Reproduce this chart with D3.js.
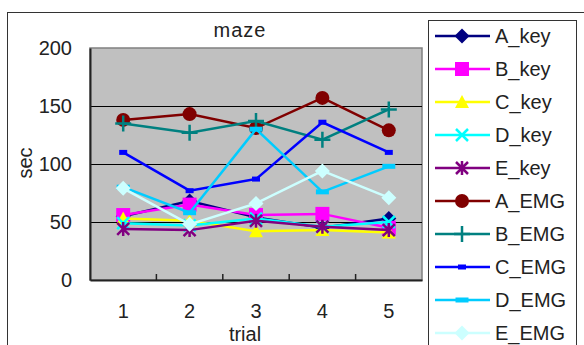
<!DOCTYPE html>
<html>
<head>
<meta charset="utf-8">
<script src="https://cdn.jsdelivr.net/npm/d3@7"></script>
<style>
  body { margin: 0; background: #fff; }
  text { font-family: "Liberation Sans", Arial, sans-serif; fill: #222; }
</style>
</head>
<body>
<svg id="chart" width="584" height="345"></svg>
<script>
// data
var trials = [1, 2, 3, 4, 5];
var yTicks = [0, 50, 100, 150, 200];

var seriesNames = ['A_key', 'B_key', 'C_key', 'D_key', 'E_key',
                   'A_EMG', 'B_EMG', 'C_EMG', 'D_EMG', 'E_EMG'];

var A_key = [55, 68, 54, 45, 53];
var B_key = [56, 65, 56, 57, 45];
var C_key = [53, 51, 42, 43, 41];
var D_key = [49, 47, 53, 46, 50];
var E_key = [44, 43, 51, 46, 43];
var A_EMG = [138, 143, 131, 157, 129];
var B_EMG = [135, 127, 137, 121, 147];
var C_EMG = [110, 77, 87, 136, 110];
var D_EMG = [80, 58, 130, 76, 98];
var E_EMG = [79, 48, 66, 94, 71];

var seriesValues = [A_key, B_key, C_key, D_key, E_key, A_EMG, B_EMG, C_EMG, D_EMG, E_EMG];
var colors = ['#000080', '#FF00FF', '#FFFF00', '#00FFFF', '#800080',
              '#800000', '#008080', '#0000FF', '#00CCFF', '#CCFFFF'];
var markers = ['diamond', 'square', 'triangle', 'x', 'star',
               'circle', 'plus', 'dash', 'wideDash', 'diamond'];

var svg = d3.select('#chart');

// outer chart frame (cropped on right and bottom)
svg.append('rect')
    .attr('x', 7.5).attr('y', 12.5)
    .attr('width', 600).attr('height', 400)
    .attr('fill', '#fff').attr('stroke', '#333');

var plot = { left: 90, top: 48, right: 422, bottom: 280 };

var x = d3.scaleBand().domain(trials).range([plot.left, plot.right]);
var y = d3.scaleLinear().domain([0, 200]).range([plot.bottom, plot.top]);

// plot area
svg.append('rect')
    .attr('x', plot.left).attr('y', plot.top)
    .attr('width', plot.right - plot.left).attr('height', plot.bottom - plot.top)
    .attr('fill', '#C0C0C0').attr('stroke', '#808080').attr('stroke-width', 1.5);

// gridlines
svg.append('g')
    .attr('transform', 'translate(' + plot.left + ',0)')
    .call(d3.axisLeft(y).tickValues([50, 100, 150]).tickSize(-(plot.right - plot.left)).tickFormat(''))
    .call(function (g) { g.select('.domain').remove(); })
    .selectAll('line').attr('stroke', '#000').attr('stroke-width', 1);

// y axis
var yAxis = svg.append('g')
    .attr('transform', 'translate(' + plot.left + ',0)')
    .call(d3.axisLeft(y).tickValues(yTicks).tickSize(0).tickPadding(18));
yAxis.select('.domain').attr('stroke', '#222').attr('stroke-width', 2);
yAxis.selectAll('text').style('font-size', '20px').attr('fill', '#222');

// x axis
var xAxis = svg.append('g')
    .attr('transform', 'translate(0,' + plot.bottom + ')')
    .call(d3.axisBottom(x).tickSize(0).tickPadding(24));
xAxis.select('.domain').attr('stroke', '#222').attr('stroke-width', 2);
xAxis.selectAll('text').style('font-size', '20px').attr('fill', '#222');

// category boundary ticks, pointing inward
svg.append('g').selectAll('line')
    .data(trials.slice(1))
    .join('line')
    .attr('x1', function (d) { return x(d); })
    .attr('x2', function (d) { return x(d); })
    .attr('y1', plot.bottom)
    .attr('y2', plot.bottom - 6)
    .attr('stroke', '#222').attr('stroke-width', 1.5);

// titles
svg.append('text').attr('x', 240).attr('y', 37).attr('text-anchor', 'middle')
    .style('font-size', '20px').style('letter-spacing', '1px').text('maze');
svg.append('text').attr('x', 245).attr('y', 341).attr('text-anchor', 'middle')
    .style('font-size', '20px').text('trial');
svg.append('text').attr('transform', 'translate(32,163) rotate(-90)').attr('text-anchor', 'middle')
    .style('font-size', '20px').text('sec');

function drawMarker(g, type, color, cx, cy) {
    var s;
    if (type === 'diamond') {
        g.append('path').attr('d', 'M' + cx + ',' + (cy - 7.5) + 'L' + (cx + 7.5) + ',' + cy + 'L' + cx + ',' + (cy + 7.5) + 'L' + (cx - 7.5) + ',' + cy + 'Z')
            .attr('fill', color);
    } else if (type === 'square') {
        g.append('rect').attr('x', cx - 7).attr('y', cy - 7).attr('width', 14).attr('height', 14).attr('fill', color);
    } else if (type === 'triangle') {
        g.append('path').attr('d', 'M' + cx + ',' + (cy - 7) + 'L' + (cx + 7) + ',' + (cy + 6) + 'L' + (cx - 7) + ',' + (cy + 6) + 'Z')
            .attr('fill', color);
    } else if (type === 'circle') {
        g.append('circle').attr('cx', cx).attr('cy', cy).attr('r', 7).attr('fill', color);
    } else if (type === 'x') {
        s = 6;
        g.append('path').attr('d', 'M' + (cx - s) + ',' + (cy - s) + 'L' + (cx + s) + ',' + (cy + s) + 'M' + (cx + s) + ',' + (cy - s) + 'L' + (cx - s) + ',' + (cy + s))
            .attr('stroke', color).attr('stroke-width', 2.5).attr('fill', 'none');
    } else if (type === 'star') {
        s = 6;
        g.append('path').attr('d', 'M' + (cx - s) + ',' + (cy - s) + 'L' + (cx + s) + ',' + (cy + s) + 'M' + (cx + s) + ',' + (cy - s) + 'L' + (cx - s) + ',' + (cy + s) + 'M' + cx + ',' + (cy - 7) + 'L' + cx + ',' + (cy + 7))
            .attr('stroke', color).attr('stroke-width', 2.5).attr('fill', 'none');
    } else if (type === 'plus') {
        g.append('path').attr('d', 'M' + (cx - 8) + ',' + cy + 'L' + (cx + 8) + ',' + cy + 'M' + cx + ',' + (cy - 8) + 'L' + cx + ',' + (cy + 8))
            .attr('stroke', color).attr('stroke-width', 2.5).attr('fill', 'none');
    } else if (type === 'dash') {
        g.append('rect').attr('x', cx - 4).attr('y', cy - 2.5).attr('width', 8).attr('height', 5).attr('fill', color);
    } else if (type === 'wideDash') {
        g.append('rect').attr('x', cx - 6.5).attr('y', cy - 2.5).attr('width', 13).attr('height', 5).attr('fill', color);
    }
}

var line = d3.line()
    .x(function (d, i) { return x(trials[i]) + x.bandwidth() / 2; })
    .y(function (d) { return y(d); });

seriesValues.forEach(function (vals, k) {
    var g = svg.append('g');
    g.append('path').attr('d', line(vals))
        .attr('fill', 'none').attr('stroke', colors[k]).attr('stroke-width', 2.5);
    vals.forEach(function (v, i) {
        drawMarker(g, markers[k], colors[k], x(trials[i]) + x.bandwidth() / 2, y(v));
    });
});

// legend
var legend = svg.append('g');
legend.append('rect')
    .attr('x', 428.5).attr('y', 20.5).attr('width', 148).attr('height', 400)
    .attr('fill', '#fff').attr('stroke', '#333');

seriesNames.forEach(function (name, k) {
    var ly = 36 + k * 33;
    var g = legend.append('g');
    g.append('line').attr('x1', 435).attr('x2', 490).attr('y1', ly).attr('y2', ly)
        .attr('stroke', colors[k]).attr('stroke-width', 2.5);
    drawMarker(g, markers[k], colors[k], 462, ly);
    g.append('text').attr('x', 495).attr('y', ly + 7).style('font-size', '20px').text(name);
});
</script>
</body>
</html>
